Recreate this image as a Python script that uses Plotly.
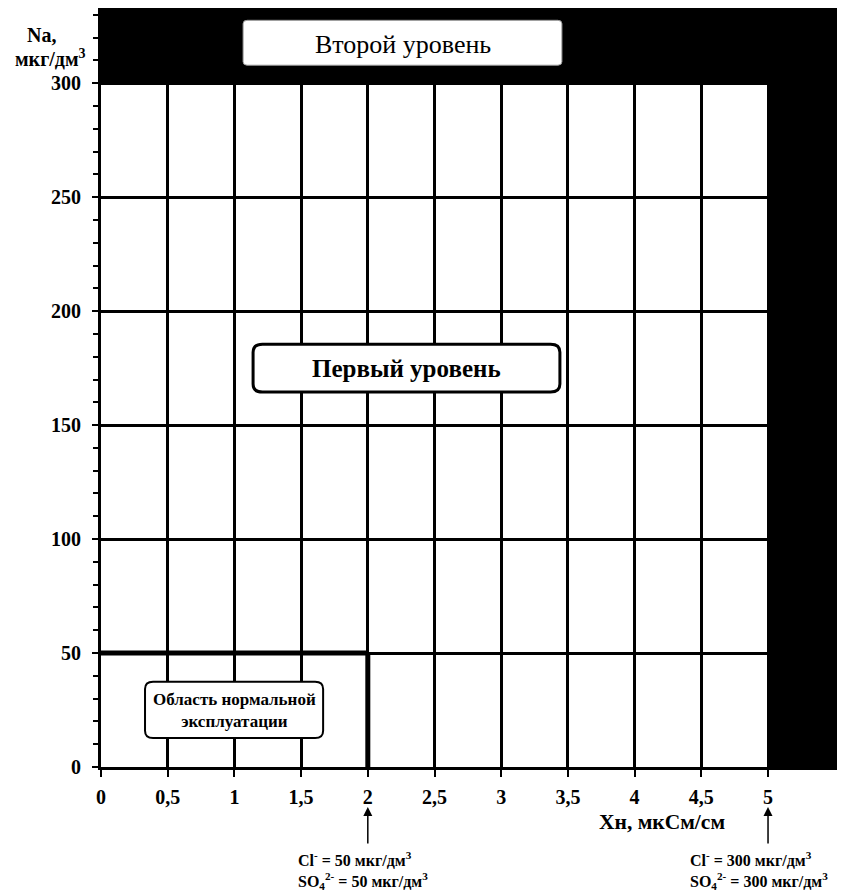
import plotly.graph_objects as go

# ---- data ----
x_ticks = [0, 0.5, 1, 1.5, 2, 2.5, 3, 3.5, 4, 4.5, 5]
x_tick_labels = ["0", "0,5", "1", "1,5", "2", "2,5", "3", "3,5", "4", "4,5", "5"]
y_ticks = [0, 50, 100, 150, 200, 250, 300]
y_tick_labels = ["0", "50", "100", "150", "200", "250", "300"]
x_range = [0, 5.577]
y_range = [0, 333]
normal_x_limit = 2      # Xн limit of normal operation
normal_y_limit = 50     # Na limit of normal operation
first_x_limit = 5       # Xн limit of first level
first_y_limit = 300     # Na limit of first level
region_labels = ["Второй уровень", "Первый уровень", "Область нормальной<br>эксплуатации"]
limit_cl = ["Cl<sup>-</sup> = 50 мкг/дм<sup>3</sup>", "Cl<sup>-</sup> = 300 мкг/дм<sup>3</sup>"]
limit_so4 = ["SO<sub>4</sub><sup>2-</sup> = 50 мкг/дм<sup>3</sup>",
             "SO<sub>4</sub><sup>2-</sup> = 300 мкг/дм<sup>3</sup>"]

SERIF = "Liberation Serif, Times New Roman, serif"

fig = go.Figure()
fig.add_trace(go.Scatter(x=[x_range[0], x_range[1]], y=[y_range[0], y_range[1]],
                         mode="markers", marker=dict(opacity=0), hoverinfo="skip",
                         showlegend=False))


def rounded_rect(x0, x1, y0, y1, rx, ry):
    return (f"M {x0+rx},{y0} L {x1-rx},{y0} Q {x1},{y0} {x1},{y0+ry} "
            f"L {x1},{y1-ry} Q {x1},{y1} {x1-rx},{y1} "
            f"L {x0+rx},{y1} Q {x0},{y1} {x0},{y1-ry} "
            f"L {x0},{y0+ry} Q {x0},{y0} {x0+rx},{y0} Z")


shapes = []
shapes.append(dict(type="rect", xref="x", yref="y", x0=x_range[0], x1=x_range[1],
                   y0=first_y_limit, y1=y_range[1], fillcolor="black", line_width=0,
                   layer="above"))
shapes.append(dict(type="rect", xref="x", yref="y", x0=first_x_limit, x1=x_range[1],
                   y0=y_range[0], y1=y_range[1], fillcolor="black", line_width=0,
                   layer="above"))
shapes.append(dict(type="line", xref="x", yref="y", x0=0, x1=normal_x_limit,
                   y0=normal_y_limit, y1=normal_y_limit, line=dict(color="black", width=5),
                   layer="above"))
shapes.append(dict(type="line", xref="x", yref="y", x0=normal_x_limit, x1=normal_x_limit,
                   y0=0, y1=normal_y_limit, line=dict(color="black", width=5),
                   layer="above"))
shapes.append(dict(type="path", xref="x", yref="y",
                   path=rounded_rect(1.065, 3.455, 307.9, 327.6, 0.03, 1.5),
                   fillcolor="white", line=dict(color="#999", width=1), layer="above"))
shapes.append(dict(type="path", xref="x", yref="y",
                   path=rounded_rect(1.14, 3.44, 164.5, 185.5, 0.07, 3.5),
                   fillcolor="white", line=dict(color="black", width=3), layer="above"))
shapes.append(dict(type="path", xref="x", yref="y",
                   path=rounded_rect(0.33, 1.665, 12.7, 37.4, 0.06, 3.2),
                   fillcolor="white", line=dict(color="black", width=2), layer="above"))

annotations = [
    dict(x=2.264, y=317, xref="x", yref="y", text=region_labels[0], showarrow=False,
         font=dict(family=SERIF, size=26, color="black")),
    dict(x=2.29, y=175, xref="x", yref="y", text="<b>" + region_labels[1] + "</b>",
         showarrow=False, font=dict(family=SERIF, size=25, color="black")),
    dict(x=0.997, y=24.6, xref="x", yref="y", text="<b>" + region_labels[2] + "</b>",
         showarrow=False, font=dict(family=SERIF, size=17, color="black")),
]


def px_x(p):
    return (p - 101) / 744


def px_y(p):
    return (767 - p) / 759


# y axis title
annotations.append(dict(xref="paper", yref="paper", x=px_x(41), y=px_y(35),
                        xanchor="center", yanchor="middle", text="<b>Na,</b>",
                        showarrow=False, font=dict(family=SERIF, size=20, color="black")))
annotations.append(dict(xref="paper", yref="paper", x=px_x(50), y=px_y(58),
                        xanchor="center", yanchor="middle", text="<b>мкг/дм<sup>3</sup></b>",
                        showarrow=False, font=dict(family=SERIF, size=20, color="black")))
# x axis title
annotations.append(dict(xref="paper", yref="paper", x=px_x(662), y=px_y(822),
                        xanchor="center", yanchor="middle", text="<b>Хн, мкСм/см</b>",
                        showarrow=False, font=dict(family=SERIF, size=21.5, color="black")))
# arrows and notes
for xv, cl, so4, shift in [(normal_x_limit, limit_cl[0], limit_so4[0], -72),
                           (first_x_limit, limit_cl[1], limit_so4[1], -80)]:
    annotations.append(dict(xref="x", yref="paper", x=xv, y=px_y(807), ax=0, ay=38,
                            axref="pixel", ayref="pixel", text="", showarrow=True,
                            arrowhead=2, arrowsize=1.2, arrowwidth=1.5, arrowcolor="black"))
    annotations.append(dict(xref="x", yref="paper", x=xv, y=px_y(894), xshift=shift,
                            xanchor="left", yanchor="bottom", align="left",
                            text="<b>" + cl + "</b><br><b>" + so4 + "</b>", showarrow=False,
                            font=dict(family=SERIF, size=16, color="black")))

fig.update_layout(
    width=837, height=887,
    margin=dict(l=93, r=0, t=0, b=128, autoexpand=False),
    paper_bgcolor="white", plot_bgcolor="white",
    separators=", ",
    showlegend=False,
    shapes=shapes,
    annotations=annotations,
    xaxis=dict(range=x_range, tickvals=x_ticks, ticktext=x_tick_labels,
               showgrid=True, gridcolor="black", gridwidth=2.5,
               showline=True, linecolor="black", linewidth=3,
               ticks="outside", ticklen=7, tickwidth=2, tickcolor="black",
               ticklabelstandoff=3, zeroline=False, automargin=False,
               tickfont=dict(family=SERIF, size=20, color="black", weight="bold")),
    yaxis=dict(range=y_range, tickvals=y_ticks, ticktext=y_tick_labels,
               showgrid=True, gridcolor="black", gridwidth=2.5,
               showline=True, linecolor="black", linewidth=3,
               ticks="outside", ticklen=6, tickwidth=2, tickcolor="black",
               ticklabelstandoff=7, zeroline=False, automargin=False,
               minor=dict(dtick=10, ticks="outside", ticklen=5, tickwidth=2,
                          tickcolor="black", showgrid=False),
               tickfont=dict(family=SERIF, size=20, color="black", weight="bold")),
)

fig.write_html("out.html")
